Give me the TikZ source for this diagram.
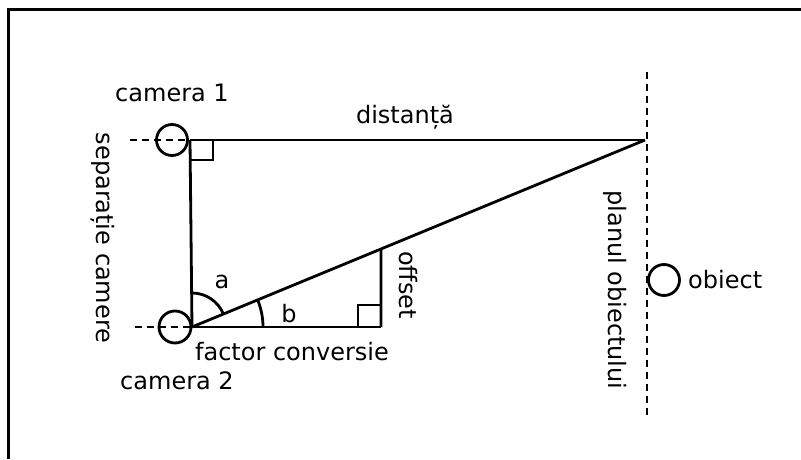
\documentclass[tikz,border=0pt]{standalone}
\usepackage{fontspec}
\setmainfont{DejaVu Sans}
\usetikzlibrary{calc}
\begin{document}
\begin{tikzpicture}[x=1pt,y=1pt,
  ln/.style={line width=2.8pt},
  dsh/.style={line width=2.6pt,dash pattern=on 7pt off 5pt},
  circ/.style={circle,draw,line width=2.8pt,inner sep=0pt},
  lbl/.style={font=\fontsize{24}{28}\selectfont,inner sep=0pt}]
\useasboundingbox (0,0) rectangle (801,459);
% frame (top and left edges)
\draw[line width=3pt] (801,449) -- (8,449) -- (8,0);
% points
\coordinate (P1) at (190,319);
\coordinate (P2) at (192,132);
\coordinate (T) at (645,319);
\coordinate (Q) at (381,132);
\coordinate (O) at ($(P2)!0.4172!(T)$);
\coordinate (D1a) at (130,319);
\coordinate (D1b) at (188,319);
\coordinate (D2a) at (135,132);
\coordinate (D2b) at (190,132);
\coordinate (Va) at (647,387);
\coordinate (Vb) at (647,44);
% cameras and object
\node[circ,minimum size=31pt] (cam1) at (172,319) {};
\node[circ,minimum size=32pt] (cam2) at (175,132) {};
\node[circ,minimum size=31pt] (obj) at (664,179) {};
% dashed lines
\draw[dsh] (D1a) -- (D1b);
\draw[dsh] (D2a) -- (D2b);
\draw[dsh] (Va) -- (Vb);
% triangle lines
\draw[ln] (P1) -- (T);
\draw[ln] (P1) -- (P2);
\draw[ln] (P2) -- (T);
\draw[ln] (P2) -- (Q);
\draw[ln] (Q) -- (O);
% right-angle marks
\draw[ln] ($(P1)+(0,-20)$) -- ++(23,0) -- ++(0,20);
\draw[ln] ($(Q)+(-23,0)$) -- ++(0,22) -- ++(23,0);
% angle arcs
\draw[ln] ($(P2)+(22.4:34)$) arc (22.4:90:34);
\draw[ln] ($(P2)+(71,0)$) arc (0:22.4:71);
% labels
\node[lbl] (t1) at (172,366) {camera 1};
\node[lbl] (t2) at (177,78) {camera 2};
\node[lbl] (tdist) at (405,342) {distanță};
\node[lbl,rotate=-90] (tsep) at (103,221) {separație camere};
\node[lbl] (ta) at (222,177) {a};
\node[lbl] (tb) at (289,145) {b};
\node[lbl,rotate=-90] (toff) at (408,174) {offset};
\node[lbl] (tfac) at (292,107) {factor conversie};
\node[lbl,rotate=-90] (tplan) at (615,169) {planul obiectului};
\node[lbl,anchor=west] (tobj) at (688,179) {obiect};
\end{tikzpicture}
\end{document}
